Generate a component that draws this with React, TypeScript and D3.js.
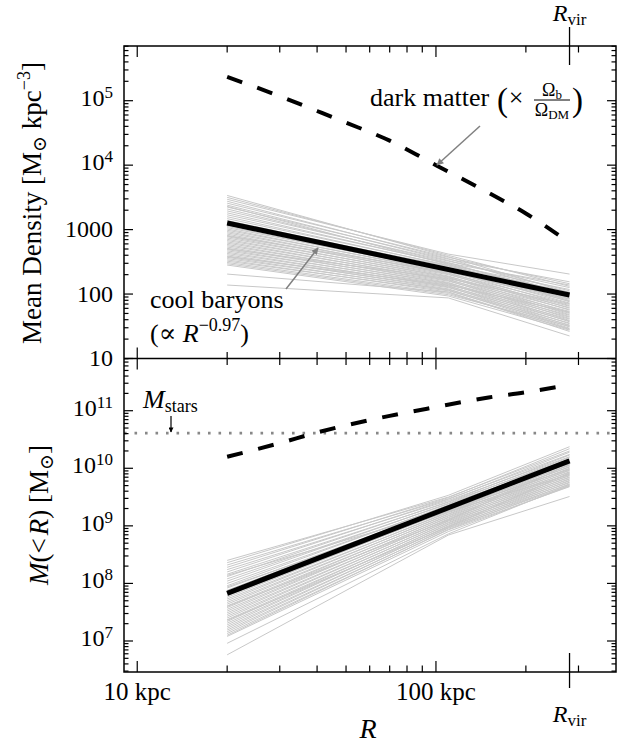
import React from "react";
import * as d3 from "d3";

// ---------- data ----------
const radiusGrid = [20, 110, 280]; // kpc, sample radii of the individual (gray) profiles
// log10 mean density [Msun kpc^-3] of cool baryons, one row per halo
const coolDensityLog: number[][] = [
  [3.53, 2.58, 2.02], [3.5, 2.6, 2.12], [3.47, 2.62, 2.31], [3.44, 2.55, 1.98],
  [3.41, 2.57, 2.16], [3.38, 2.52, 2.05], [3.35, 2.54, 2.19], [3.32, 2.49, 1.94],
  [3.29, 2.51, 2.1], [3.26, 2.47, 2.0], [3.23, 2.48, 2.14], [3.2, 2.44, 1.9],
  [3.17, 2.45, 2.07], [3.14, 2.41, 1.96], [3.11, 2.43, 2.03], [3.09, 2.38, 1.86],
  [3.07, 2.4, 1.99], [3.05, 2.36, 1.82], [3.03, 2.37, 1.93], [3.01, 2.33, 1.78],
  [2.99, 2.35, 1.89], [2.97, 2.31, 1.75], [2.95, 2.32, 1.85], [2.93, 2.28, 1.71],
  [2.91, 2.3, 1.81], [2.89, 2.26, 1.68], [2.87, 2.27, 1.79], [2.85, 2.23, 1.65],
  [2.83, 2.25, 1.76], [2.81, 2.21, 1.62], [2.79, 2.22, 1.73], [2.77, 2.18, 1.59],
  [2.75, 2.2, 1.7], [2.73, 2.16, 1.57], [2.71, 2.17, 1.67], [2.69, 2.13, 1.54],
  [2.67, 2.15, 1.64], [2.65, 2.11, 1.51], [2.63, 2.12, 1.61], [2.61, 2.08, 1.49],
  [2.59, 2.1, 1.58], [2.57, 2.06, 1.47], [2.55, 2.07, 1.55], [2.53, 2.03, 1.45],
  [2.51, 2.05, 1.52], [2.49, 2.01, 1.46], [2.47, 1.99, 1.5], [2.45, 1.97, 1.44],
  [2.31, 2.03, 1.42], [2.14, 1.94, 1.35], [3.36, 2.46, 1.88], [2.9, 2.34, 1.92],
  [2.7, 2.24, 1.84], [2.58, 2.14, 1.72],
];
// log10 enclosed mass [Msun] of cool baryons, one row per halo
const coolMassLog: number[][] = [
  [8.4, 9.5, 10.3], [8.36, 9.53, 10.375], [8.32, 9.47, 10.24], [8.28, 9.49, 10.34],
  [8.24, 9.44, 10.2], [8.2, 9.46, 10.28], [8.16, 9.41, 10.16], [8.12, 9.42, 10.23],
  [8.08, 9.38, 10.12], [8.04, 9.39, 10.19], [8.0, 9.35, 10.08], [7.96, 9.36, 10.15],
  [7.92, 9.32, 10.05], [7.88, 9.33, 10.11], [7.85, 9.29, 10.02], [7.82, 9.3, 10.09],
  [7.79, 9.26, 9.99], [7.76, 9.27, 10.06], [7.73, 9.23, 9.96], [7.7, 9.24, 10.03],
  [7.67, 9.2, 9.93], [7.64, 9.21, 10.0], [7.61, 9.17, 9.9], [7.58, 9.18, 9.97],
  [7.55, 9.14, 9.87], [7.52, 9.15, 9.94], [7.49, 9.11, 9.84], [7.46, 9.12, 9.91],
  [7.43, 9.08, 9.81], [7.4, 9.09, 9.88], [7.37, 9.05, 9.78], [7.34, 9.06, 9.85],
  [7.31, 9.02, 9.75], [7.28, 9.03, 9.82], [7.25, 8.99, 9.72], [7.22, 9.0, 9.79],
  [7.19, 8.96, 9.7], [7.16, 8.97, 9.76], [7.13, 8.93, 9.68], [7.1, 8.94, 9.73],
  [7.08, 8.9, 9.69], [6.96, 8.86, 9.71], [6.76, 8.84, 9.51], [8.14, 9.28, 9.98],
  [7.6, 9.1, 10.07], [7.36, 8.98, 9.92], [7.94, 9.25, 9.89],
];
const fitRadius = [20, 280];
const fitDensityLog = [3.102, 1.985];
const fitMassLog = [7.826, 10.13];
const dmRadius = [20, 30, 40, 50, 70, 100, 150, 200, 260];
const dmDensityLog = [5.37, 5.07, 4.84, 4.66, 4.38, 4.0, 3.57, 3.25, 2.9];
const dmMassLog = [10.2, 10.437, 10.621, 10.746, 10.911, 11.064, 11.23, 11.322, 11.42];
const starMassLog = 10.61;
const rVir = 280;
const xTickLabels = [
  { v: 10, t: "10 kpc" },
  { v: 100, t: "100 kpc" },
];
const topPlainLabels = [
  { v: 10, t: "10" },
  { v: 100, t: "100" },
  { v: 1000, t: "1000" },
];
const topPowLabels = [4, 5];
const botPowLabels = [7, 8, 9, 10, 11];

const SERIF = "'Liberation Serif', 'DejaVu Serif', serif";

export default function App() {
  const L = 124, R = 616, T = 46, M = 358.5, B = 672;
  const x = d3.scaleLog().domain([9.03, 400.6]).range([L, R]);
  const yTop = d3.scaleLog().domain([10, 7.06e5]).range([M, T]);
  const yBot = d3.scaleLog().domain([2.894e6, 8.07e11]).range([B, M]);

  const mk = (ys: any, curve: any) =>
    d3
      .line<[number, number]>()
      .x((d) => x(d[0]))
      .y((d) => ys(Math.pow(10, d[1])))
      .curve(curve);

  const lineTop = mk(yTop, d3.curveLinear);
  const lineBot = mk(yBot, d3.curveLinear);
  const smoothTop = mk(yTop, d3.curveMonotoneX);
  const smoothBot = mk(yBot, d3.curveMonotoneX);
  const rows = (vals: number[], rs: number[]) => rs.map((r, i) => [r, vals[i]] as [number, number]);

  const isMajor = (v: number) => Math.abs(Math.log10(v) - Math.round(Math.log10(v))) < 1e-6;

  const xTicks = x.ticks().filter((v) => v > 9.2 && v < 395);
  const topTicks = yTop.ticks().filter((v) => v >= 10 && v <= 7.06e5);
  const botTicks = yBot.ticks().filter((v) => v >= 2.894e6 && v <= 8.07e11);

  const tickEls: JSX.Element[] = [];
  xTicks.forEach((v, i) => {
    const len = isMajor(v) ? 11 : 6.5;
    const xx = x(v);
    tickEls.push(<line key={"xt" + i} x1={xx} x2={xx} y1={T} y2={T + len} />);
    tickEls.push(<line key={"xm" + i} x1={xx} x2={xx} y1={M - len} y2={M + len} />);
    tickEls.push(<line key={"xb" + i} x1={xx} x2={xx} y1={B - len} y2={B} />);
  });
  topTicks.forEach((v, i) => {
    const len = isMajor(v) ? 9 : 4.5;
    const yy = yTop(v);
    tickEls.push(<line key={"tl" + i} x1={L} x2={L + len} y1={yy} y2={yy} />);
    tickEls.push(<line key={"tr" + i} x1={R - len} x2={R} y1={yy} y2={yy} />);
  });
  botTicks.forEach((v, i) => {
    const len = isMajor(v) ? 9 : 4.5;
    const yy = yBot(v);
    tickEls.push(<line key={"bl" + i} x1={L} x2={L + len} y1={yy} y2={yy} />);
    tickEls.push(<line key={"br" + i} x1={R - len} x2={R} y1={yy} y2={yy} />);
  });

  const labX = 113;
  const xv = x(rVir);

  return (
    <svg
      width={633}
      height={747}
      style={{ position: "absolute", left: 0, top: 0, background: "#fff" }}
      fontFamily={SERIF}
    >
      <defs>
        <marker id="ahGray" viewBox="0 0 10 10" refX="9" refY="5" markerWidth="9" markerHeight="7" markerUnits="userSpaceOnUse" orient="auto">
          <path d="M0,0 L10,5 L0,10 z" fill="#808080" />
        </marker>
        <marker id="ahBlack" viewBox="0 0 10 10" refX="9" refY="5" markerWidth="7" markerHeight="5" markerUnits="userSpaceOnUse" orient="auto">
          <path d="M0,0 L10,5 L0,10 z" fill="#000" />
        </marker>
        <clipPath id="clipTop"><rect x={L} y={T} width={R - L} height={M - T} /></clipPath>
        <clipPath id="clipBot"><rect x={L} y={M} width={R - L} height={B - M} /></clipPath>
      </defs>

      {/* ---------- top panel ---------- */}
      <g clipPath="url(#clipTop)">
        {coolDensityLog.map((row, i) => (
          <path key={"gd" + i} d={lineTop(rows(row, radiusGrid)) || ""} fill="none" stroke="#c8c8c8" strokeWidth={1} />
        ))}
        <path d={lineTop(rows(fitDensityLog, fitRadius)) || ""} fill="none" stroke="#000" strokeWidth={5} />
        <path d={smoothTop(rows(dmDensityLog, dmRadius)) || ""} fill="none" stroke="#000" strokeWidth={4} strokeDasharray="16 16" />
      </g>

      {/* ---------- bottom panel ---------- */}
      <g clipPath="url(#clipBot)">
        <line x1={L} x2={R} y1={yBot(Math.pow(10, starMassLog))} y2={yBot(Math.pow(10, starMassLog))} stroke="#888" strokeWidth={2.6} strokeDasharray="2.6 7.9" />
        {coolMassLog.map((row, i) => (
          <path key={"gm" + i} d={lineBot(rows(row, radiusGrid)) || ""} fill="none" stroke="#c8c8c8" strokeWidth={1} />
        ))}
        <path d={lineBot(rows(fitMassLog, fitRadius)) || ""} fill="none" stroke="#000" strokeWidth={5} />
        <path d={smoothBot(rows(dmMassLog, dmRadius)) || ""} fill="none" stroke="#000" strokeWidth={4} strokeDasharray="16 16" />
      </g>

      {/* ---------- frames & ticks ---------- */}
      <g stroke="#000" strokeWidth={1.2}>{tickEls}</g>
      <rect x={L} y={T} width={R - L} height={B - T} fill="none" stroke="#000" strokeWidth={1.5} />
      <line x1={L} x2={R} y1={M} y2={M} stroke="#000" strokeWidth={1.5} />
      <line x1={xv} x2={xv} y1={27} y2={65} stroke="#000" strokeWidth={1.3} />
      <line x1={xv} x2={xv} y1={653} y2={688} stroke="#000" strokeWidth={1.3} />

      {/* ---------- tick labels ---------- */}
      <g fontSize={24} fill="#000">
        {topPlainLabels.map((d) => (
          <text key={"tp" + d.v} x={labX} y={yTop(d.v) + 7.5} textAnchor="end">{d.t}</text>
        ))}
        {topPowLabels.map((e) => (
          <text key={"tq" + e} x={labX} y={yTop(Math.pow(10, e)) + 5} textAnchor="end">
            10<tspan dy={-8} fontSize={17}>{e}</tspan>
          </text>
        ))}
        {botPowLabels.map((e) => (
          <text key={"bq" + e} x={labX} y={yBot(Math.pow(10, e)) + 5} textAnchor="end">
            10<tspan dy={-8} fontSize={17}>{e}</tspan>
          </text>
        ))}
        {xTickLabels.map((d) => (
          <text key={"xl" + d.v} x={x(d.v)} y={700} textAnchor="middle" fontSize={25}>{d.t}</text>
        ))}
      </g>

      {/* R_vir labels */}
      <text x={xv} y={21} textAnchor="middle" fontSize={24}>
        <tspan fontStyle="italic">R</tspan>
        <tspan dy={4} fontSize={17}>vir</tspan>
      </text>
      <text x={xv} y={722} textAnchor="middle" fontSize={24}>
        <tspan fontStyle="italic">R</tspan>
        <tspan dy={4} fontSize={17}>vir</tspan>
      </text>

      {/* axis titles */}
      <text x={368} y={738} textAnchor="middle" fontSize={28} fontStyle="italic">R</text>
      <text transform="translate(41,203) rotate(-90)" textAnchor="middle" fontSize={27}>
        Mean Density [M<tspan dy={5} fontSize={19}>⊙</tspan>
        <tspan dy={-5}> kpc</tspan>
        <tspan dy={-11} fontSize={18}>−3</tspan>
        <tspan dy={11}>]</tspan>
      </text>
      <text transform="translate(48,515) rotate(-90)" textAnchor="middle" fontSize={27}>
        <tspan fontStyle="italic">M</tspan>(&lt;<tspan dx={3} fontStyle="italic">R</tspan>) [M
        <tspan dy={5} fontSize={19}>⊙</tspan>
        <tspan dy={-5}>]</tspan>
      </text>

      {/* ---------- annotations ---------- */}
      <text x={370} y={106} fontSize={26}>dark matter</text>
      <text x={497} y={111} fontSize={33}>(</text>
      <text x={516} y={106} fontSize={26} textAnchor="middle">×</text>
      <text x={552} y={96} fontSize={18} textAnchor="middle">
        Ω<tspan dy={3} fontSize={13}>b</tspan>
      </text>
      <line x1={534} x2={570} y1={100} y2={100} stroke="#000" strokeWidth={1} />
      <text x={552} y={116} fontSize={18} textAnchor="middle">
        Ω<tspan dy={3} fontSize={13}>DM</tspan>
      </text>
      <text x={572} y={111} fontSize={33}>)</text>
      <line x1={480} y1={126} x2={437} y2={165} stroke="#808080" strokeWidth={1.5} markerEnd="url(#ahGray)" />

      <text x={150} y={308} fontSize={26}>cool baryons</text>
      <text x={150} y={342} fontSize={26}>
        (∝ <tspan fontStyle="italic">R</tspan>
        <tspan dy={-11} fontSize={18}>−0.97</tspan>
        <tspan dy={11}>)</tspan>
      </text>
      <line x1={286} y1={289} x2={318} y2={248} stroke="#808080" strokeWidth={1.5} markerEnd="url(#ahGray)" />

      <text x={143} y={408} fontSize={26}>
        <tspan fontStyle="italic">M</tspan>
        <tspan dy={4} fontSize={18}>stars</tspan>
      </text>
      <line x1={171} y1={416} x2={171} y2={432} stroke="#000" strokeWidth={1.2} markerEnd="url(#ahBlack)" />
    </svg>
  );
}
